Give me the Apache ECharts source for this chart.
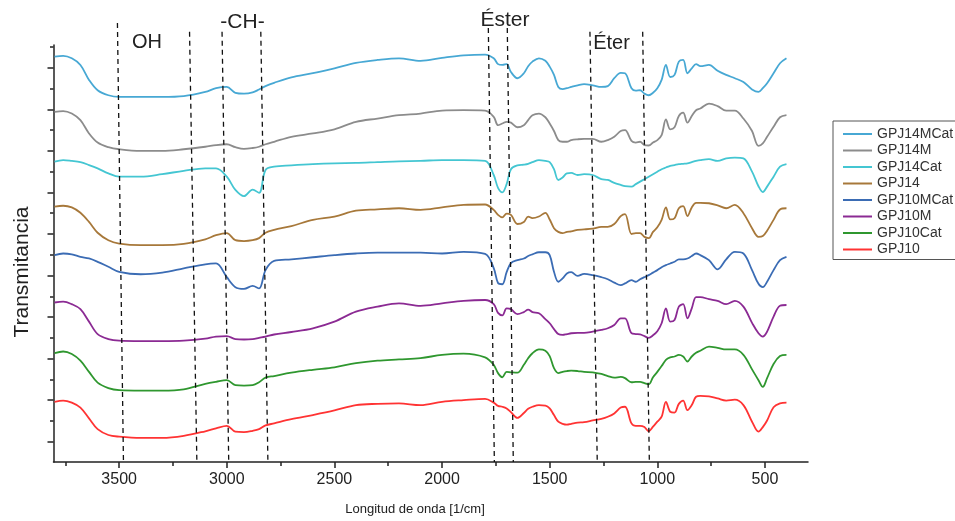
<!DOCTYPE html>
<html>
<head>
<meta charset="utf-8">
<script src="https://cdn.jsdelivr.net/npm/echarts@6/dist/echarts.min.js"></script>
<style>
  html, body { margin: 0; padding: 0; background: #fff; }
  #main { width: 955px; height: 521px; }
</style>
</head>
<body>
<div id="main"></div>
<script>
// wavenumber grid (1/cm) shared by all spectra
const wavenumbers = [
  3800, 3760, 3720, 3680, 3640, 3600, 3550, 3500, 3400, 3300,
  3200, 3100, 3050, 3000, 2960, 2920, 2880, 2850, 2820, 2780,
  2700, 2600, 2500, 2400, 2300, 2200, 2100, 2000, 1900, 1800,
  1760, 1740, 1720, 1700, 1680, 1650, 1620, 1600, 1580, 1550,
  1520, 1500, 1480, 1460, 1440, 1420, 1400, 1370, 1340, 1300,
  1260, 1230, 1200, 1170, 1150, 1120, 1100, 1080, 1060, 1040,
  1020, 1000, 980, 960, 940, 920, 900, 880, 860, 840,
  820, 800, 760, 720, 680, 640, 600, 560, 530, 510,
  490, 460, 430, 400
];

// stacked transmittance (arbitrary units, offset per sample)
const gpj14MCat = [
  92.7, 92.9, 92.3, 90.7, 87.1, 84.6, 83.4, 83.0, 83.0, 83.0,
  83.2, 84.2, 85.1, 85.4, 84.0, 83.8, 84.1, 84.8, 85.6, 86.4,
  87.7, 88.7, 89.9, 91.2, 91.9, 92.3, 91.7, 92.4, 93.0, 93.2,
  92.3, 90.9, 90.7, 90.9, 89.0, 87.5, 88.7, 90.4, 91.5, 92.3,
  91.7, 90.3, 88.3, 85.4, 84.9, 85.1, 85.4, 85.8, 86.1, 85.8,
  85.4, 85.6, 87.5, 88.8, 88.7, 85.1, 84.5, 84.6, 83.8, 83.4,
  84.0, 85.1, 87.1, 90.7, 87.8, 88.3, 91.5, 91.9, 88.7, 89.9,
  90.9, 90.4, 90.7, 89.3, 88.3, 87.5, 86.6, 84.8, 84.2, 85.1,
  86.3, 88.7, 91.1, 92.3
];
const gpj14M = [
  79.4, 79.6, 79.0, 77.4, 74.2, 72.0, 70.9, 70.4, 70.0, 70.0,
  70.4, 71.0, 71.4, 71.6, 70.9, 70.5, 70.7, 71.0, 71.6, 72.2,
  73.4, 74.2, 75.2, 77.0, 77.8, 78.6, 79.0, 79.7, 79.8, 79.7,
  78.2, 76.2, 76.6, 77.0, 76.8, 75.7, 76.2, 77.4, 78.6, 79.0,
  78.1, 76.6, 74.8, 72.6, 72.2, 72.2, 72.6, 72.8, 72.9, 72.9,
  72.2, 72.6, 73.4, 74.8, 75.0, 72.4, 72.0, 72.2, 71.4, 71.3,
  72.0, 72.6, 73.8, 77.6, 75.2, 75.7, 78.4, 79.2, 76.8, 78.4,
  79.8, 80.2, 81.4, 80.8, 79.7, 79.7, 77.8, 74.8, 71.2, 71.8,
  73.4, 75.8, 78.1, 78.6
];
const gpj14Cat = [
  67.4, 67.8, 67.6, 67.3, 66.6, 65.8, 64.6, 63.8, 63.8, 64.4,
  65.2, 65.8, 65.8, 63.8, 60.6, 59.1, 60.7, 59.9, 65.4, 66.2,
  66.5, 66.8, 67.0, 67.1, 67.3, 67.5, 67.6, 67.8, 67.8, 67.6,
  64.2, 61.1, 60.0, 62.0, 65.6, 66.5, 66.7, 66.9, 67.3, 67.8,
  67.6, 67.3, 65.6, 63.0, 63.6, 64.6, 64.7, 64.2, 64.4, 64.2,
  63.2, 63.0, 62.3, 61.8, 61.5, 61.4, 62.0, 62.6, 63.2, 63.8,
  64.4, 65.0, 65.6, 66.0, 66.4, 66.6, 66.8, 66.9, 67.0, 67.3,
  67.6, 67.8, 68.0, 67.6, 68.2, 68.4, 68.2, 65.0, 61.5, 60.1,
  61.4, 63.8, 66.2, 66.8
];
const gpj14 = [
  56.6, 56.8, 56.4, 55.1, 52.9, 50.3, 48.5, 47.7, 47.3, 47.3,
  47.6, 48.7, 49.7, 50.2, 48.5, 48.3, 48.5, 49.0, 50.3, 51.0,
  51.9, 53.4, 54.2, 55.6, 55.9, 56.2, 55.8, 56.4, 57.0, 57.1,
  55.8, 54.6, 54.0, 54.9, 54.6, 52.4, 52.9, 54.2, 53.8, 54.2,
  55.1, 53.5, 51.4, 50.5, 50.2, 50.5, 50.6, 51.0, 51.1, 51.3,
  51.7, 51.7, 52.4, 54.3, 54.8, 50.0, 50.2, 50.2, 49.3, 49.0,
  50.5, 51.6, 53.4, 56.4, 53.5, 53.8, 56.2, 56.7, 54.3, 56.4,
  57.5, 57.5, 57.4, 56.9, 56.2, 57.0, 55.0, 51.4, 49.3, 49.5,
  50.8, 53.4, 55.9, 56.2
];
const gpj10MCat = [
  44.9, 45.3, 45.1, 44.5, 44.1, 43.3, 42.1, 40.9, 40.3, 40.7,
  41.7, 42.7, 42.9, 39.6, 37.2, 36.8, 37.5, 36.9, 41.3, 43.5,
  43.9, 44.4, 44.9, 45.3, 45.5, 45.5, 45.5, 45.3, 45.7, 45.2,
  41.8, 38.2, 37.9, 40.8, 43.0, 43.7, 44.1, 44.7, 45.1, 45.6,
  45.6, 44.9, 40.9, 38.5, 39.3, 40.5, 40.8, 39.9, 40.4, 40.1,
  39.6, 39.1, 38.3, 37.7, 38.1, 38.9, 38.5, 39.1, 39.6, 40.1,
  40.7, 41.3, 42.0, 42.5, 42.9, 43.3, 43.9, 43.9, 44.1, 44.7,
  45.3, 44.9, 43.7, 41.5, 43.9, 45.7, 45.3, 41.3, 38.0, 37.2,
  38.5, 41.3, 43.7, 44.5
];
const gpj10M = [
  33.5, 33.7, 33.1, 31.9, 28.9, 25.9, 24.7, 24.3, 24.2, 24.2,
  24.3, 24.8, 25.3, 25.4, 24.7, 24.6, 24.7, 25.0, 25.3, 25.8,
  26.4, 27.3, 28.9, 31.3, 32.5, 33.3, 32.7, 33.3, 33.9, 34.1,
  33.1, 31.0, 30.4, 32.1, 31.9, 30.7, 31.2, 31.8, 31.2, 30.9,
  29.5, 28.5, 27.1, 25.9, 25.7, 25.9, 26.1, 26.2, 26.2, 26.5,
  26.9, 27.3, 28.1, 29.7, 29.7, 26.1, 25.9, 25.8, 25.4, 25.0,
  25.6, 26.6, 28.5, 32.1, 28.9, 29.3, 32.5, 33.1, 29.7, 32.1,
  34.8, 34.8, 34.3, 33.9, 33.1, 33.9, 32.5, 28.6, 26.1, 25.3,
  26.5, 30.1, 32.7, 32.9
];
const gpj10Cat = [
  21.3, 21.7, 21.1, 19.5, 16.8, 14.2, 12.9, 12.4, 12.3, 12.3,
  12.6, 13.9, 14.4, 14.8, 13.6, 13.5, 13.6, 14.3, 15.4, 15.8,
  16.6, 17.3, 17.9, 18.9, 19.5, 19.8, 20.1, 20.9, 21.2, 20.3,
  18.5, 16.5, 15.5, 16.8, 16.7, 16.6, 18.5, 20.1, 21.3, 22.2,
  21.9, 20.6, 17.7, 16.5, 16.8, 17.0, 17.1, 17.0, 16.8, 16.7,
  16.3, 15.8, 15.4, 15.6, 15.3, 14.3, 14.4, 14.4, 14.1, 13.8,
  15.5, 16.8, 18.2, 19.7, 20.3, 20.5, 20.9, 20.5, 19.3, 20.5,
  21.4, 21.9, 22.9, 22.6, 22.2, 22.2, 20.9, 17.4, 14.8, 13.2,
  15.3, 18.7, 20.6, 20.9
];
const gpj10 = [
  9.6, 9.9, 9.4, 8.2, 5.6, 3.0, 1.6, 1.2, 0.9, 0.9,
  1.4, 2.5, 3.2, 3.8, 2.4, 2.3, 2.6, 3.0, 3.9, 4.4,
  5.4, 6.4, 7.5, 8.8, 9.1, 9.2, 8.8, 9.6, 10.0, 10.3,
  9.4, 8.6, 8.4, 8.0, 7.1, 5.7, 6.9, 7.9, 8.4, 8.8,
  8.7, 8.0, 6.4, 4.8, 4.3, 4.1, 4.3, 4.6, 4.7, 5.1,
  5.5, 6.0, 6.8, 8.2, 8.4, 4.4, 3.8, 3.8, 3.5, 2.5,
  3.6, 4.8, 6.0, 9.6, 7.2, 7.0, 9.1, 9.9, 7.6, 8.8,
  10.8, 11.0, 10.9, 10.4, 9.9, 10.1, 8.8, 4.8, 2.4, 3.5,
  5.1, 8.3, 9.2, 9.4
];

const seriesNames = ["GPJ14MCat", "GPJ14M", "GPJ14Cat", "GPJ14", "GPJ10MCat", "GPJ10M", "GPJ10Cat", "GPJ10"];
const seriesValues = [gpj14MCat, gpj14M, gpj14Cat, gpj14, gpj10MCat, gpj10M, gpj10Cat, gpj10];
const seriesColors = ["#47a8d4", "#8c8c8c", "#44c6d2", "#a7783a", "#3b6cb4", "#8b2a93", "#2f972f", "#ff3333"];

// axis ticks
const xLabelTicks = [3500, 3000, 2500, 2000, 1500, 1000, 500];
const xHalfTicks = [3750, 3250, 2750, 2250, 1750, 1250, 750];
const yMajorTicks = [0, 10, 20, 30, 40, 50, 60, 70, 80, 90];
const yMinorTicks = [5, 15, 25, 35, 45, 55, 65, 75, 85, 95];

// dashed band markers (wavenumber at top and at the axis, level of the top end)
const bandTopWave = [3508, 3173, 3022, 2842, 1785, 1697, 1313, 1068];
const bandBottomWave = [3480, 3139, 2991, 2809, 1757, 1669, 1279, 1037];
const bandTopLevel = [100.8, 98.7, 98.7, 98.7, 99.6, 99.6, 98.7, 98.7];

const yMin = -4.9;
const yMax = 95.5;
const font = "Liberation Sans, Arial, sans-serif";

const chart = echarts.init(document.getElementById("main"));

const lineSeries = seriesNames.map((name, i) => ({
  name: name,
  type: "line",
  data: wavenumbers.map((w, j) => [w, seriesValues[i][j]]),
  symbol: "none",
  smooth: 0.35,
  lineStyle: { color: seriesColors[i], width: 1.8 },
  itemStyle: { color: seriesColors[i] },
  z: 3,
}));

const bandSeries = {
  type: "custom",
  silent: true,
  clip: false,
  z: 4,
  data: bandTopWave.map((w, i) => [w, bandBottomWave[i], bandTopLevel[i]]),
  encode: { x: [0, 1], y: 2 },
  renderItem: (params, api) => {
    const top = api.coord([api.value(0), api.value(2)]);
    const bottom = api.coord([api.value(1), yMin]);
    return {
      type: "line",
      shape: { x1: top[0], y1: top[1], x2: bottom[0], y2: bottom[1] },
      style: { stroke: "#111", lineWidth: 1.3, lineDash: [5, 4] },
    };
  },
};

const axisColor = "#222";

const option = {
  animation: false,
  backgroundColor: "#fff",
  textStyle: { fontFamily: font },
  grid: { left: 53.5, right: 147, top: 45, bottom: 59, containLabel: false },
  legend: {
    data: seriesNames,
    orient: "vertical",
    left: 833,
    top: 121,
    padding: [6, 10, 3, 10],
    icon: "rect",
    itemWidth: 29,
    itemHeight: 2,
    itemGap: 2.5,
    borderColor: "#555",
    borderWidth: 1,
    textStyle: { fontSize: 14, lineHeight: 14, color: "#333", fontFamily: font },
  },
  xAxis: [
    {
      type: "value",
      min: 300,
      max: 3805,
      inverse: true,
      axisLine: { onZero: false, lineStyle: { color: axisColor, width: 1.5 } },
      axisTick: { customValues: xLabelTicks, length: 6, lineStyle: { color: axisColor, width: 1.5 } },
      axisLabel: {
        customValues: xLabelTicks,
        formatter: (v) => String(v),
        fontSize: 16,
        color: "#222",
        margin: 10,
        fontFamily: font,
      },
      splitLine: { show: false },
    },
    {
      type: "value",
      min: 300,
      max: 3805,
      inverse: true,
      position: "bottom",
      axisLine: { show: false, onZero: false },
      axisTick: { customValues: xHalfTicks, length: 4, lineStyle: { color: axisColor, width: 1.5 } },
      axisLabel: { show: false },
      splitLine: { show: false },
    },
  ],
  yAxis: [
    {
      type: "value",
      min: yMin,
      max: yMax,
      position: "left",
      axisLine: { show: true, onZero: false, lineStyle: { color: axisColor, width: 1.5 } },
      axisTick: { show: true, customValues: yMajorTicks, length: 6, lineStyle: { color: axisColor, width: 1.5 } },
      axisLabel: { show: false },
      splitLine: { show: false },
    },
    {
      type: "value",
      min: yMin,
      max: yMax,
      position: "left",
      axisLine: { show: false, onZero: false },
      axisTick: { show: true, customValues: yMinorTicks, length: 3.5, lineStyle: { color: axisColor, width: 1.5 } },
      axisLabel: { show: false },
      splitLine: { show: false },
    },
  ],
  graphic: [
    {
      type: "text", x: 22, y: 272, rotation: Math.PI / 2,
      style: { text: "Transmitancia", fill: "#222", font: "21px " + font, textAlign: "center", textVerticalAlign: "middle" },
    },
    {
      type: "text", x: 415, y: 509,
      style: { text: "Longitud de onda [1/cm]", fill: "#222", font: "13px " + font, textAlign: "center", textVerticalAlign: "middle" },
    },
    {
      type: "text", x: 147, y: 42,
      style: { text: "OH", fill: "#222", font: "20px " + font, textAlign: "center", textVerticalAlign: "middle" },
    },
    {
      type: "text", x: 242.5, y: 22,
      style: { text: "-CH-", fill: "#222", font: "21px " + font, textAlign: "center", textVerticalAlign: "middle" },
    },
    {
      type: "text", x: 505, y: 20,
      style: { text: "Éster", fill: "#222", font: "21px " + font, textAlign: "center", textVerticalAlign: "middle" },
    },
    {
      type: "text", x: 611.5, y: 43,
      style: { text: "Éter", fill: "#222", font: "20px " + font, textAlign: "center", textVerticalAlign: "middle" },
    },
  ],
  series: [...lineSeries, bandSeries],
};

chart.setOption(option);
</script>
</body>
</html>
